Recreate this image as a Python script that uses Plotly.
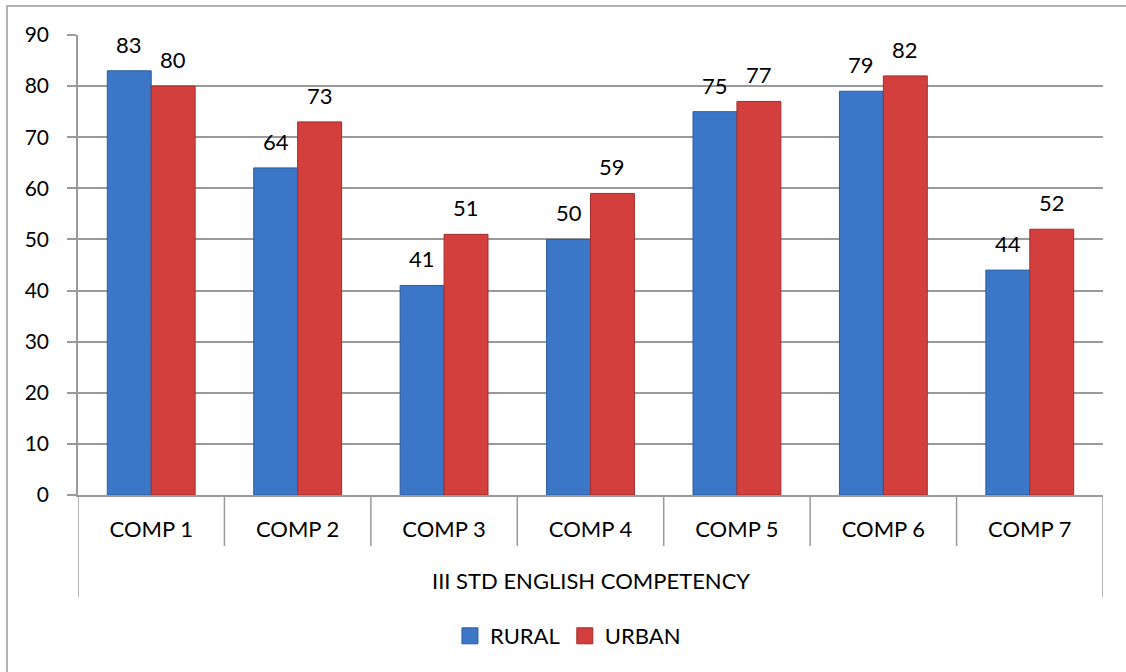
import plotly.graph_objects as go

categories = ["COMP 1", "COMP 2", "COMP 3", "COMP 4", "COMP 5", "COMP 6", "COMP 7"]
rural = [83, 64, 41, 50, 75, 79, 44]
urban = [80, 73, 51, 59, 77, 82, 52]
y_ticks = [0, 10, 20, 30, 40, 50, 60, 70, 80, 90]
axis_title = "III STD ENGLISH COMPETENCY"

FONT = "Lato, Carlito, Calibri, sans-serif"
GRID = "#9a9a9a"
BLUE = "#3b77c6"
BLUE_EDGE = "#2c5d9e"
RED = "#d23f3c"
RED_EDGE = "#a32e2c"
BARGAP = 0.4

fig = go.Figure()
fig.add_trace(go.Bar(
    name="RURAL", x=categories, y=rural,
    marker=dict(color=BLUE, line=dict(color=BLUE_EDGE, width=1)),
    showlegend=False,
))
fig.add_trace(go.Bar(
    name="URBAN", x=categories, y=urban,
    marker=dict(color=RED, line=dict(color=RED_EDGE, width=1)),
    showlegend=False,
))
# legend entries
fig.add_trace(go.Scatter(x=[None], y=[None], mode="markers", name="RURAL",
                         marker=dict(symbol="square", size=16, color=BLUE,
                                     line=dict(color=BLUE_EDGE, width=1))))
fig.add_trace(go.Scatter(x=[None], y=[None], mode="markers", name="URBAN",
                         marker=dict(symbol="square", size=16, color=RED,
                                     line=dict(color=RED_EDGE, width=1))))

L, R, T, B = 78, 23, 35, 177
W, H = 1126, 672
pw = W - L - R
ph = H - T - B

def py(px):
    return (H - B - px) / ph

def pxx(px):
    return (px - L) / pw

shapes = []
n = len(categories)
for i in range(1, n):
    shapes.append(dict(type="line", xref="x", yref="paper", x0=i - 0.5, x1=i - 0.5,
                       y0=0, y1=py(546), line=dict(color=GRID, width=1.5)))
for xv in [-0.5, n - 0.5]:
    shapes.append(dict(type="line", xref="x", yref="paper", x0=xv, x1=xv,
                       y0=0, y1=py(597), line=dict(color=GRID, width=1.5)))
shapes.append(dict(type="rect", xref="paper", yref="paper",
                   x0=pxx(7), x1=pxx(1140), y0=py(690), y1=py(6),
                   line=dict(color=GRID, width=1.5), fillcolor="rgba(0,0,0,0)", layer="below"))

annotations = [dict(text=axis_title, xref="paper", yref="paper", x=0.5, y=py(580),
                    showarrow=False, font=dict(size=22, family=FONT),
                    xanchor="center", yanchor="middle")]
half = (1 - BARGAP) / 4
for i in range(n):
    for off, vals in ((-half, rural), (half, urban)):
        annotations.append(dict(text=str(vals[i]), xref="x", yref="y", x=i + off, y=vals[i],
                                showarrow=False, yanchor="bottom", xanchor="center", yshift=11,
                                font=dict(size=22, family=FONT, color="black")))

fig.update_layout(
    width=W, height=H,
    margin=dict(l=L, r=R, t=T, b=B),
    paper_bgcolor="white", plot_bgcolor="white",
    barmode="group", bargap=BARGAP, bargroupgap=0,
    font=dict(family=FONT, size=22, color="black"),
    showlegend=True,
    legend=dict(orientation="h", x=0.478, xanchor="center", y=py(636), yanchor="middle",
                font=dict(size=22, family=FONT), itemwidth=30, traceorder="normal"),
    shapes=shapes,
    annotations=annotations,
)
fig.update_xaxes(type="category", showgrid=False, showline=True, linecolor=GRID, linewidth=1.5,
                 ticks="outside", ticklen=14, tickcolor="rgba(0,0,0,0)",
                 tickfont=dict(size=22, family=FONT), range=[-0.5, n - 0.5])
fig.update_yaxes(range=[0, 90], tickvals=y_ticks, showgrid=True, gridcolor=GRID, gridwidth=1.5,
                 showline=True, linecolor=GRID, linewidth=1.5, ticks="outside", ticklen=9,
                 tickcolor=GRID, tickwidth=1.5, tickfont=dict(size=21, family=FONT),
                 ticklabelstandoff=14, zeroline=False)

fig.write_html("out.html", config={"displayModeBar": False},
               post_script="document.body.style.margin='0';document.body.style.overflow='hidden';")
